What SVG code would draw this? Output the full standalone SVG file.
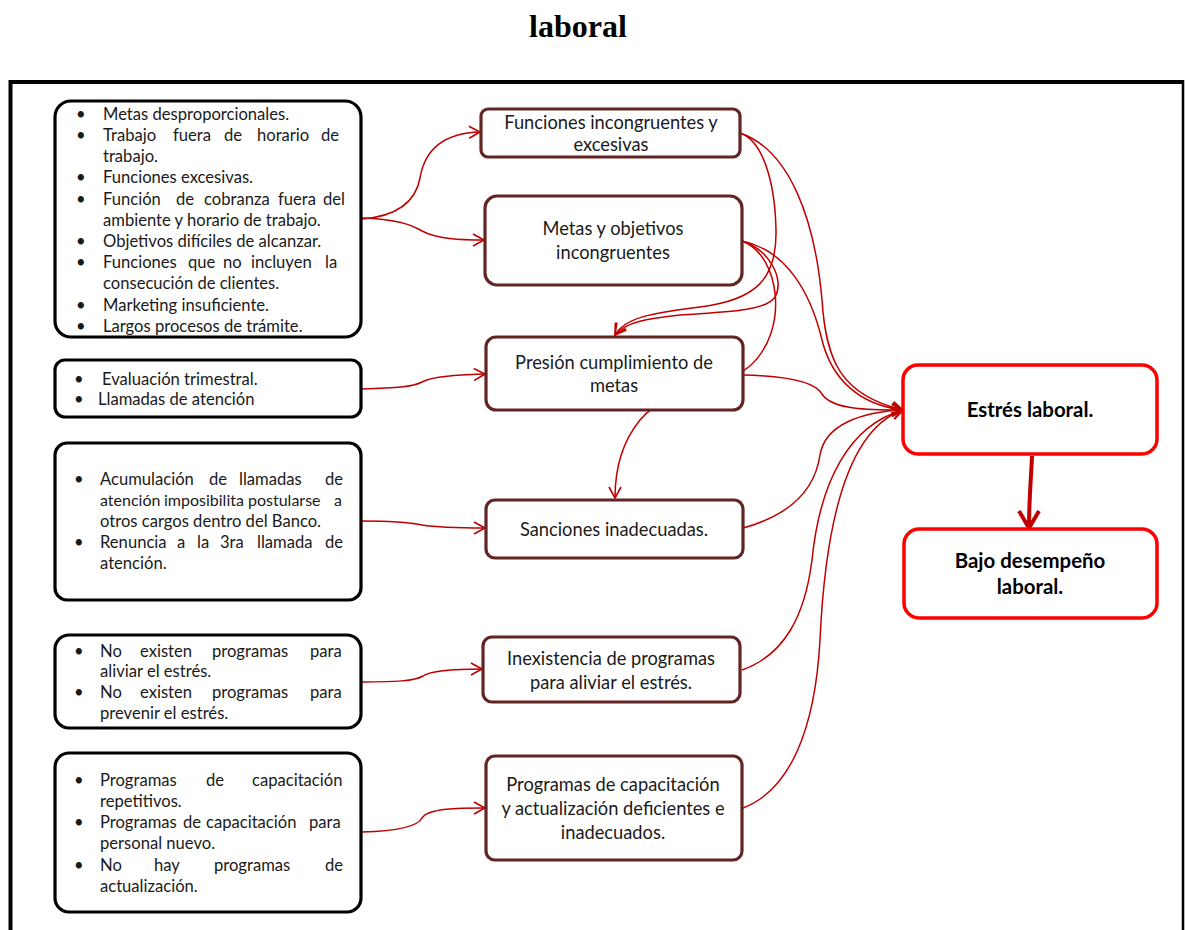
<svg xmlns="http://www.w3.org/2000/svg" width="1186" height="930" viewBox="0 0 1186 930">
<defs>
<style>
.t{font-family:Lato,"Liberation Sans",sans-serif;font-size:16.6px;fill:#1a1a1a}
.m{font-size:18.3px}
.c{text-anchor:middle}
.s{font-size:16px}
.b{font-weight:bold;font-size:20.4px;fill:#000}
.lb{fill:#fff;stroke:#000;stroke-width:3.2}
.mb{fill:#fff;stroke:#632523;stroke-width:3.2}
.rb{fill:#fff;stroke:#ff0000;stroke-width:3.5}
.cn{fill:none;stroke:#c00000;stroke-width:1.5}
</style>
<marker id="ah" markerUnits="userSpaceOnUse" markerWidth="14" markerHeight="14" refX="12" refY="7" orient="auto" viewBox="0 0 14 14">
<path d="M1,1 L12,7 L1,13" fill="none" stroke="#c00000" stroke-width="1.6"/>
</marker>
<marker id="ahb" markerUnits="userSpaceOnUse" markerWidth="26" markerHeight="26" refX="20" refY="13" orient="auto" viewBox="0 0 26 26">
<path d="M3,3 L20,13 L3,23" fill="none" stroke="#c00000" stroke-width="4"/>
</marker>
</defs>
<rect width="1186" height="930" fill="#fff"/>
<text x="578" y="37" text-anchor="middle" font-family="'Liberation Serif',serif" font-weight="bold" font-size="32">laboral</text>
<path d="M10.5,940 L10.5,82 L1183,82" fill="none" stroke="#000" stroke-width="4"/>
<path d="M1183,80 L1183,940" fill="none" stroke="#000" stroke-width="2.5"/>

<g id="connectors">
<path class="cn" d="M362,219 C400,216 416,200 420,178 C425,148 445,133 480,132" marker-end="url(#ah)"/>
<path class="cn" d="M362,218 C395,219 410,224 422,231 C437,239 460,240 484,240" marker-end="url(#ah)"/>
<path class="cn" d="M362,389 C395,388 413,387 422,382 C432,376 460,375 485,374" marker-end="url(#ah)"/>
<path class="cn" d="M362,521 C395,521 412,523 422,525 C440,528 465,528 485,528" marker-end="url(#ah)"/>
<path class="cn" d="M362,682 C395,682 415,681 423,676 C432,670 460,669 482,669" marker-end="url(#ah)"/>
<path class="cn" d="M362,832 C400,831 418,826 422,818 C428,808 460,808 485,808" marker-end="url(#ah)"/>
<path class="cn" d="M740,133 C762,140 775,180 776,230 C777,280 755,300 700,307 C650,313 625,318 615,335" marker-end="url(#ah)"/>
<path class="cn" d="M742,241 C770,250 785,280 775,297 C765,312 720,312 680,315 C650,318 625,322 615,335" marker-end="url(#ah)"/>
<path class="cn" d="M742,241 C780,255 790,330 750,366 C720,390 670,385 640,420 C622,442 615,470 615,498" marker-end="url(#ah)"/>
<path class="cn" d="M740,133 C790,150 815,220 822,300 C826,360 840,395 903,410" marker-end="url(#ah)"/>
<path class="cn" d="M742,241 C785,250 810,290 822,340 C832,380 860,405 903,410" marker-end="url(#ah)"/>
<path class="cn" d="M743,375 C790,376 815,382 822,394 C832,410 870,410 903,410" marker-end="url(#ah)"/>
<path class="cn" d="M743,528 C790,515 815,490 820,455 C825,425 860,412 903,410" marker-end="url(#ah)"/>
<path class="cn" d="M742,670 C785,655 805,615 812,560 C820,480 850,425 903,410" marker-end="url(#ah)"/>
<path class="cn" d="M743,808 C790,790 815,730 820,640 C825,530 845,430 903,410" marker-end="url(#ah)"/>
<path d="M1032,456 C1031,480 1029,500 1029,528" fill="none" stroke="#c00000" stroke-width="4" marker-end="url(#ahb)"/>
</g>

<g id="causes1">
<rect class="lb" x="55" y="101" width="306" height="236" rx="16"/>
<text class="t">
<tspan x="76" y="120">•</tspan><tspan x="103" y="120">Metas desproporcionales.</tspan>
<tspan x="76" y="141">•</tspan><tspan x="103" y="141">Trabajo</tspan><tspan x="173" y="141">fuera</tspan><tspan x="224" y="141">de</tspan><tspan x="257" y="141">horario</tspan><tspan x="321" y="141">de</tspan>
<tspan x="103" y="162">trabajo.</tspan>
<tspan x="76" y="183">•</tspan><tspan x="103" y="183">Funciones excesivas.</tspan>
<tspan x="76" y="205">•</tspan><tspan x="103" y="205">Función</tspan><tspan x="176" y="205">de</tspan><tspan x="204" y="205">cobranza</tspan><tspan x="278" y="205">fuera</tspan><tspan x="323" y="205">del</tspan>
<tspan x="103" y="226">ambiente y horario de trabajo.</tspan>
<tspan x="76" y="247">•</tspan><tspan x="103" y="247">Objetivos difíciles de alcanzar.</tspan>
<tspan x="76" y="268">•</tspan><tspan x="103" y="268">Funciones</tspan><tspan x="188" y="268">que</tspan><tspan x="223" y="268">no</tspan><tspan x="251" y="268">incluyen</tspan><tspan x="325" y="268">la</tspan>
<tspan x="103" y="289">consecución de clientes.</tspan>
<tspan x="76" y="311">•</tspan><tspan x="103" y="311">Marketing insuficiente.</tspan>
<tspan x="76" y="332">•</tspan><tspan x="103" y="332">Largos procesos de trámite.</tspan>
</text>
</g>

<g id="causes2">
<rect class="lb" x="55" y="360" width="306" height="57" rx="10"/>
<text class="t">
<tspan x="74" y="385">•</tspan><tspan x="102" y="385">Evaluación trimestral.</tspan>
<tspan x="74" y="405">•</tspan><tspan x="98" y="405">Llamadas de atención</tspan>
</text>
</g>

<g id="causes3">
<rect class="lb" x="55" y="443" width="306" height="157" rx="12"/>
<text class="t">
<tspan x="74" y="485">•</tspan><tspan x="100" y="485">Acumulación</tspan><tspan x="209" y="485">de</tspan><tspan x="239" y="485">llamadas</tspan><tspan x="325" y="485">de</tspan>
<tspan class="s" x="100" y="506">atención</tspan><tspan class="s" x="164" y="506">imposibilita</tspan><tspan class="s" x="248" y="506">postularse</tspan><tspan class="s" x="334" y="506">a</tspan>
<tspan x="100" y="527">otros cargos dentro del Banco.</tspan>
<tspan x="74" y="548">•</tspan><tspan x="100" y="548">Renuncia</tspan><tspan x="177" y="548">a</tspan><tspan x="197" y="548">la</tspan><tspan x="220" y="548">3ra</tspan><tspan x="257" y="548">llamada</tspan><tspan x="325" y="548">de</tspan>
<tspan x="100" y="569">atención.</tspan>
</text>
</g>

<g id="causes4">
<rect class="lb" x="55" y="635" width="306" height="93" rx="14"/>
<text class="t">
<tspan x="74" y="657">•</tspan><tspan x="100" y="657">No</tspan><tspan x="140" y="657">existen</tspan><tspan x="212" y="657">programas</tspan><tspan x="310" y="657">para</tspan>
<tspan x="100" y="677">aliviar el estrés.</tspan>
<tspan x="74" y="698">•</tspan><tspan x="100" y="698">No</tspan><tspan x="140" y="698">existen</tspan><tspan x="212" y="698">programas</tspan><tspan x="310" y="698">para</tspan>
<tspan x="100" y="719">prevenir el estrés.</tspan>
</text>
</g>

<g id="causes5">
<rect class="lb" x="55" y="753" width="306" height="159" rx="14"/>
<text class="t">
<tspan x="74" y="786">•</tspan><tspan x="100" y="786">Programas</tspan><tspan x="206" y="786">de</tspan><tspan x="252" y="786">capacitación</tspan>
<tspan x="100" y="807">repetitivos.</tspan>
<tspan x="74" y="828">•</tspan><tspan x="100" y="828">Programas</tspan><tspan x="183" y="828">de</tspan><tspan x="206" y="828">capacitación</tspan><tspan x="309" y="828">para</tspan>
<tspan x="100" y="849">personal nuevo.</tspan>
<tspan x="74" y="871">•</tspan><tspan x="100" y="871">No</tspan><tspan x="154" y="871">hay</tspan><tspan x="214" y="871">programas</tspan><tspan x="325" y="871">de</tspan>
<tspan x="100" y="892">actualización.</tspan>
</text>
</g>

<g id="funciones">
<rect class="mb" x="481" y="109" width="259" height="48" rx="7"/>
<text class="t m c"><tspan x="611" y="129">Funciones incongruentes y</tspan><tspan x="611" y="151">excesivas</tspan></text>
</g>
<g id="metas">
<rect class="mb" x="485" y="196" width="257" height="89" rx="12"/>
<text class="t m c"><tspan x="613" y="235">Metas y objetivos</tspan><tspan x="613" y="259">incongruentes</tspan></text>
</g>
<g id="presion">
<rect class="mb" x="486" y="337" width="257" height="73" rx="10"/>
<text class="t m c"><tspan x="614" y="369">Presión cumplimiento de</tspan><tspan x="614" y="392">metas</tspan></text>
</g>
<g id="sanciones">
<rect class="mb" x="486" y="500" width="257" height="58" rx="9"/>
<text class="t m c" x="614" y="536">Sanciones inadecuadas.</text>
</g>
<g id="inexistencia">
<rect class="mb" x="483" y="637" width="257" height="65" rx="9"/>
<text class="t m c"><tspan x="611" y="665">Inexistencia de programas</tspan><tspan x="611" y="689">para aliviar el estrés.</tspan></text>
</g>
<g id="programas">
<rect class="mb" x="486" y="756" width="256" height="104" rx="9"/>
<text class="t m c"><tspan x="613" y="791">Programas de capacitación</tspan><tspan x="613" y="815">y actualización deficientes e</tspan><tspan x="613" y="839">inadecuados.</tspan></text>
</g>

<g id="estres">
<rect class="rb" x="903" y="365" width="254" height="89" rx="15"/>
<text class="t b c" x="1030" y="417">Estrés laboral.</text>
</g>
<g id="desempeno">
<rect class="rb" x="904" y="529" width="253" height="89" rx="15"/>
<text class="t b c"><tspan x="1030" y="568">Bajo desempeño</tspan><tspan x="1030" y="594">laboral.</tspan></text>
</g>
</svg>
